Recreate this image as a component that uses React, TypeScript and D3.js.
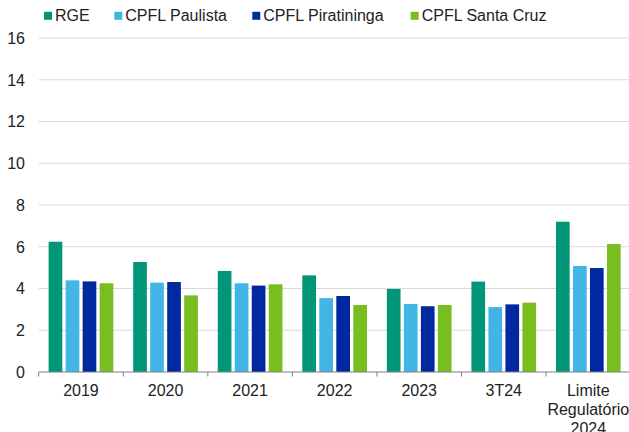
import React from "react";
import * as d3 from "d3";

const categories = ["2019", "2020", "2021", "2022", "2023", "3T24", "Limite\nRegulatório\n2024"];
const seriesNames = ["RGE", "CPFL Paulista", "CPFL Piratininga", "CPFL Santa Cruz"];
const seriesColors = ["#009677", "#41B6E6", "#0029A0", "#78BE21"];
const rge = [6.24, 5.27, 4.84, 4.63, 3.98, 4.33, 7.2];
const paulista = [4.39, 4.28, 4.25, 3.54, 3.26, 3.11, 5.08];
const piratininga = [4.34, 4.31, 4.14, 3.64, 3.15, 3.24, 4.98];
const santaCruz = [4.25, 3.67, 4.2, 3.21, 3.21, 3.32, 6.13];
const yTicks = [0, 2, 4, 6, 8, 10, 12, 14, 16];
const legendX = [44, 114.3, 252.3, 410.7];

const W = 629;
const H = 432;
const left = 38.7;
const right = 630.6;
const top = 38;
const bottom = 372;

export default function App() {
  const series = [rge, paulista, piratininga, santaCruz];
  const x = d3.scaleBand<string>().domain(categories).range([left, right]).padding(0);
  const y = d3.scaleLinear().domain([0, 16]).range([bottom, top]);
  const groupW = 64.7;
  const inner = d3
    .scaleBand<string>()
    .domain(seriesNames)
    .range([0, groupW])
    .paddingInner(0.195)
    .paddingOuter(0);
  const font = "Arial, 'Liberation Sans', sans-serif";
  return (
    <svg
      width={W}
      height={H}
      style={{ position: "absolute", left: 0, top: 0, background: "#fff" }}
      fontFamily={font}
    >
      {yTicks.map((t) => (
        <g key={t}>
          {t > 0 && (
            <line x1={left} x2={W} y1={y(t)} y2={y(t)} stroke="#d9d9d9" strokeWidth={1} />
          )}
          <text x={25} y={y(t)} dy="0.36em" textAnchor="end" fontSize={16} fill="#222">
            {t}
          </text>
        </g>
      ))}
      {categories.map((c, i) => {
        const gx = (x(c) as number) + (x.bandwidth() - groupW) / 2;
        return (
          <g key={c}>
            {series.map((s, j) => (
              <rect
                key={j}
                x={gx + (inner(seriesNames[j]) as number)}
                y={y(s[i])}
                width={inner.bandwidth()}
                height={bottom - y(s[i])}
                fill={seriesColors[j]}
              />
            ))}
          </g>
        );
      })}
      <line x1={left} x2={W} y1={bottom} y2={bottom} stroke="#7f7f7f" strokeWidth={1} />
      {categories.map((c) => (
        <line
          key={"t" + c}
          x1={x(c) as number}
          x2={x(c) as number}
          y1={bottom}
          y2={bottom + 4.5}
          stroke="#7f7f7f"
          strokeWidth={1}
        />
      ))}
      {categories.map((c) => {
        const cx = (x(c) as number) + x.bandwidth() / 2;
        return (
          <text key={"l" + c} textAnchor="middle" fontSize={16} fill="#222">
            {c.split("\n").map((ln, k) => (
              <tspan key={k} x={cx} y={396 + k * 19}>
                {ln}
              </tspan>
            ))}
          </text>
        );
      })}
      {seriesNames.map((n, j) => (
        <g key={n}>
          <rect x={legendX[j]} y={11.8} width={8} height={8} fill={seriesColors[j]} />
          <text x={legendX[j] + 11} y={20.7} fontSize={16} fill="#222">
            {n}
          </text>
        </g>
      ))}
    </svg>
  );
}
